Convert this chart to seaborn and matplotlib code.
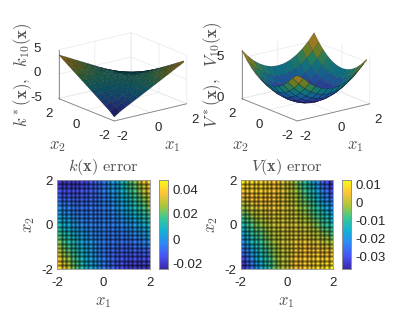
import numpy as np
import matplotlib
matplotlib.use('Agg')
import matplotlib.pyplot as plt
import seaborn as sns
from matplotlib.colors import LinearSegmentedColormap

W, H = 415, 312

# 3D surface samples, rows run from x2=-2 to x2=2
surf_axis = [-2, -1.667, -1.333, -1, -0.667, -0.333, 0, 0.333, 0.667, 1, 1.333, 1.667, 2]
k_surface = [
    [-4.2, -3.33, -2.67, -2, -1.33, -0.67, 0, 0.67, 1.33, 2, 2.67, 3.33, 4],
    [-3.33, -2.78, -2.22, -1.67, -1.11, -0.56, 0, 0.56, 1.11, 1.67, 2.22, 2.78, 3.33],
    [-2.67, -2.22, -1.78, -1.33, -0.89, -0.44, 0, 0.44, 0.89, 1.33, 1.78, 2.22, 2.67],
    [-2, -1.67, -1.33, -1, -0.67, -0.33, 0, 0.33, 0.67, 1, 1.33, 1.67, 2],
    [-1.33, -1.11, -0.89, -0.67, -0.44, -0.22, 0, 0.22, 0.44, 0.67, 0.89, 1.11, 1.33],
    [-0.67, -0.56, -0.44, -0.33, -0.22, -0.11, 0, 0.11, 0.22, 0.33, 0.44, 0.56, 0.67],
    [0, 0, 0, 0, 0, 0, 0, 0, 0, 0, 0, 0, 0],
    [0.67, 0.56, 0.44, 0.33, 0.22, 0.11, 0, -0.11, -0.22, -0.33, -0.44, -0.56, -0.67],
    [1.33, 1.11, 0.89, 0.67, 0.44, 0.22, 0, -0.22, -0.44, -0.67, -0.89, -1.11, -1.33],
    [2, 1.67, 1.33, 1, 0.67, 0.33, 0, -0.33, -0.67, -1, -1.33, -1.67, -2],
    [2.67, 2.22, 1.78, 1.33, 0.89, 0.44, 0, -0.44, -0.89, -1.33, -1.78, -2.22, -2.67],
    [3.33, 2.78, 2.22, 1.67, 1.11, 0.56, 0, -0.56, -1.11, -1.67, -2.22, -2.78, -3.33],
    [4, 3.33, 2.67, 2, 1.33, 0.67, 0, -0.67, -1.33, -2, -2.67, -3.33, -3.6],
]
V_surface = [
    [5.6, 5.08, 4.33, 3.75, 3.33, 3.08, 3.0, 3.08, 3.33, 3.75, 4.33, 5.08, 5.8],
    [5.08, 4.16, 3.41, 2.83, 2.41, 2.16, 2.08, 2.16, 2.41, 2.83, 3.41, 4.16, 5.08],
    [4.33, 3.41, 2.66, 2.08, 1.66, 1.41, 1.33, 1.41, 1.66, 2.08, 2.66, 3.41, 4.33],
    [3.75, 2.83, 2.08, 1.5, 1.08, 0.83, 0.75, 0.83, 1.08, 1.5, 2.08, 2.83, 3.75],
    [3.33, 2.41, 1.66, 1.08, 0.66, 0.41, 0.33, 0.41, 0.66, 1.08, 1.66, 2.41, 3.33],
    [3.08, 2.16, 1.41, 0.83, 0.41, 0.16, 0.08, 0.16, 0.41, 0.83, 1.41, 2.16, 3.08],
    [3.0, 2.08, 1.33, 0.75, 0.33, 0.08, 0, 0.08, 0.33, 0.75, 1.33, 2.08, 3.0],
    [3.08, 2.16, 1.41, 0.83, 0.41, 0.16, 0.08, 0.16, 0.41, 0.83, 1.41, 2.16, 3.08],
    [3.33, 2.41, 1.66, 1.08, 0.66, 0.41, 0.33, 0.41, 0.66, 1.08, 1.66, 2.41, 3.33],
    [3.75, 2.83, 2.08, 1.5, 1.08, 0.83, 0.75, 0.83, 1.08, 1.5, 2.08, 2.83, 3.75],
    [4.33, 3.41, 2.66, 2.08, 1.66, 1.41, 1.33, 1.41, 1.66, 2.08, 2.66, 3.41, 4.33],
    [5.08, 4.16, 3.41, 2.83, 2.41, 2.16, 2.08, 2.16, 2.41, 2.83, 3.41, 4.16, 5.08],
    [6.0, 5.08, 4.33, 3.75, 3.33, 3.08, 3.0, 3.08, 3.33, 3.75, 4.33, 5.08, 6.0],
]

# error maps in thousandths, first row is x2=2, last row is x2=-2
k_error = [
    [-20, -20, -19, -19, -18, -16, -15, -13, -10, -8, -5, -2, 2, 5, 9, 14, 18, 23, 29, 34, 40],
    [-17, -17, -17, -17, -16, -15, -13, -12, -10, -8, -5, -2, 1, 4, 8, 12, 17, 21, 26, 31, 37],
    [-14, -14, -15, -14, -14, -13, -12, -11, -9, -7, -5, -2, 0, 4, 7, 11, 15, 19, 24, 29, 34],
    [-11, -12, -12, -12, -12, -12, -11, -10, -9, -7, -5, -3, 0, 3, 6, 9, 13, 17, 21, 26, 31],
    [-8, -9, -10, -10, -10, -10, -10, -9, -8, -7, -5, -3, -1, 2, 5, 8, 11, 15, 19, 23, 28],
    [-5, -6, -7, -8, -9, -9, -9, -8, -7, -6, -5, -3, -1, 1, 4, 6, 9, 13, 17, 21, 25],
    [-2, -4, -5, -6, -7, -7, -7, -7, -7, -6, -5, -4, -2, 0, 2, 5, 8, 11, 14, 18, 22],
    [1, -1, -3, -4, -5, -6, -6, -6, -6, -6, -5, -4, -3, -1, 1, 3, 6, 9, 12, 15, 19],
    [4, 2, 0, -2, -3, -4, -5, -5, -6, -5, -5, -4, -3, -2, 0, 2, 4, 7, 9, 13, 16],
    [7, 4, 2, 0, -1, -3, -4, -5, -5, -5, -5, -5, -4, -3, -1, 0, 2, 4, 7, 10, 13],
    [10, 7, 5, 2, 0, -1, -3, -4, -4, -5, -5, -5, -4, -4, -3, -1, 0, 2, 5, 7, 10],
    [13, 10, 7, 4, 2, 0, -1, -3, -4, -5, -5, -5, -5, -5, -4, -3, -1, 0, 2, 4, 7],
    [16, 13, 9, 7, 4, 2, 0, -2, -3, -4, -5, -5, -6, -5, -5, -4, -3, -2, 0, 2, 4],
    [19, 15, 12, 9, 6, 3, 1, -1, -3, -4, -5, -6, -6, -6, -6, -6, -5, -4, -3, -1, 1],
    [22, 18, 14, 11, 8, 5, 2, 0, -2, -4, -5, -6, -7, -7, -7, -7, -7, -6, -5, -4, -2],
    [25, 21, 17, 13, 9, 6, 4, 1, -1, -3, -5, -6, -7, -8, -9, -9, -9, -8, -7, -6, -5],
    [28, 23, 19, 15, 11, 8, 5, 2, -1, -3, -5, -7, -8, -9, -10, -10, -10, -10, -10, -9, -8],
    [31, 26, 21, 17, 13, 9, 6, 3, 0, -3, -5, -7, -9, -10, -11, -12, -12, -12, -12, -12, -11],
    [34, 29, 24, 19, 15, 11, 7, 4, 0, -2, -5, -7, -9, -11, -12, -13, -14, -14, -15, -14, -14],
    [37, 31, 26, 21, 17, 12, 8, 4, 1, -2, -5, -8, -10, -12, -13, -15, -16, -17, -17, -17, -17],
    [40, 34, 29, 23, 18, 14, 9, 5, 2, -2, -5, -8, -10, -13, -15, -16, -18, -19, -19, -20, -20],
]
V_error = [
    [12, 10, 9, 9, 8, 8, 7, 6, 5, 3, 1, -1, -3, -6, -10, -13, -17, -21, -26, -30, -35],
    [9, 9, 8, 8, 8, 8, 7, 6, 5, 3, 1, 0, -3, -6, -9, -12, -16, -20, -24, -28, -33],
    [7, 7, 7, 8, 7, 7, 7, 6, 5, 3, 1, 0, -2, -5, -8, -11, -14, -18, -22, -26, -31],
    [5, 6, 6, 7, 7, 6, 6, 5, 4, 3, 1, 0, -2, -4, -7, -10, -13, -16, -20, -24, -28],
    [3, 4, 5, 5, 6, 6, 6, 5, 4, 3, 2, 1, -1, -4, -6, -9, -11, -15, -18, -22, -26],
    [0, 2, 3, 4, 4, 5, 5, 4, 4, 3, 2, 1, -1, -3, -5, -7, -10, -13, -16, -20, -23],
    [-2, -1, 1, 2, 3, 3, 4, 4, 3, 3, 2, 1, 0, -2, -4, -6, -9, -11, -14, -17, -21],
    [-5, -3, -1, 0, 1, 2, 3, 3, 3, 3, 2, 1, 0, -1, -3, -5, -7, -10, -12, -15, -19],
    [-7, -5, -3, -1, 0, 1, 2, 2, 2, 2, 2, 1, 1, -1, -2, -4, -6, -8, -10, -13, -16],
    [-9, -7, -5, -3, -1, 0, 1, 2, 2, 2, 2, 2, 1, 0, -1, -3, -5, -6, -9, -11, -14],
    [-12, -9, -7, -5, -3, -1, 0, 1, 2, 2, 2, 2, 2, 1, 0, -1, -3, -5, -7, -9, -12],
    [-14, -11, -9, -6, -5, -3, -1, 0, 1, 2, 2, 2, 2, 2, 1, 0, -1, -3, -5, -7, -9],
    [-16, -13, -10, -8, -6, -4, -2, -1, 1, 1, 2, 2, 2, 2, 2, 1, 0, -1, -3, -5, -7],
    [-19, -15, -12, -10, -7, -5, -3, -1, 0, 1, 2, 3, 3, 3, 3, 2, 1, 0, -1, -3, -5],
    [-21, -17, -14, -11, -9, -6, -4, -2, 0, 1, 2, 3, 3, 4, 4, 3, 3, 2, 1, -1, -2],
    [-23, -20, -16, -13, -10, -7, -5, -3, -1, 1, 2, 3, 4, 4, 5, 5, 4, 4, 3, 2, 0],
    [-26, -22, -18, -15, -11, -9, -6, -4, -1, 1, 2, 3, 4, 5, 6, 6, 6, 5, 5, 4, 3],
    [-28, -24, -20, -16, -13, -10, -7, -4, -2, 0, 1, 3, 4, 5, 6, 6, 7, 7, 6, 6, 5],
    [-31, -26, -22, -18, -14, -11, -8, -5, -2, 0, 1, 3, 5, 6, 7, 7, 8, 8, 7, 7, 7],
    [-33, -28, -24, -20, -16, -12, -9, -6, -3, 0, 1, 3, 5, 6, 7, 8, 8, 8, 8, 9, 9],
    [-35, -30, -26, -21, -17, -13, -10, -6, -3, -1, 1, 3, 5, 6, 7, 8, 8, 9, 9, 10, 12],
]

k_cbar_ticks = [-0.02, 0, 0.02, 0.04]
V_cbar_ticks = [-0.03, -0.02, -0.01, 0, 0.01]
axis_ticks = [-2, 0, 2]

sns.set_theme(style='white')
plt.rcParams['font.family'] = ['Liberation Sans', 'DejaVu Sans']
plt.rcParams['mathtext.fontset'] = 'cm'
plt.rcParams['text.color'] = '#262626'
plt.rcParams['axes.unicode_minus'] = False

parula_anchors = np.array([
    (0.2422, 0.1504, 0.6603), (0.2810, 0.3228, 0.9579), (0.1786, 0.5289, 0.9682),
    (0.0689, 0.6948, 0.8394), (0.2161, 0.7843, 0.5923), (0.6720, 0.7793, 0.2227),
    (0.9970, 0.7659, 0.2199), (0.9769, 0.9839, 0.0805)])
parula = LinearSegmentedColormap.from_list('parula', parula_anchors)

fig = plt.figure(figsize=(W / 100, H / 100), dpi=100)


def rect(x0, y0, x1, y1):
    return [x0 / W, 1 - y1 / H, (x1 - x0) / W, (y1 - y0) / H]


def label(x, y, s, size=11, rotation=0):
    fig.text(x / W, 1 - y / H, s, fontsize=size, rotation=rotation, ha='center', va='center', color='#505050')


def surface(box, z, zlim, zticks, clim, shade_factor):
    ax = fig.add_axes(rect(*box), projection='3d', proj_type='ortho')
    ax.patch.set_alpha(0)
    X, Y = np.meshgrid(surf_axis, surf_axis)
    # the original mesh is very fine, so its black edges darken the whole surface
    dark = LinearSegmentedColormap.from_list('dark', parula_anchors * shade_factor)
    ax.plot_surface(X, Y, np.array(z), cmap=dark, vmin=clim[0], vmax=clim[1], rstride=1, cstride=1,
                    edgecolor=(0, 0, 0, 0.4), linewidth=0.3, antialiased=True, shade=False)
    ax.set_xlim(-2, 2)
    ax.set_ylim(-2, 2)
    ax.set_zlim(*zlim)
    ax.set_xticks(axis_ticks)
    ax.set_yticks(axis_ticks)
    ax.set_zticks(zticks)
    ax.view_init(elev=18, azim=-127.5)
    ax.set_box_aspect((1, 1, 0.56), zoom=1.08)
    for a in [ax.xaxis, ax.yaxis, ax.zaxis]:
        a.set_pane_color((1, 1, 1, 0))
        a.pane.set_edgecolor('#e4e4e4')
        a.line.set_color('#808080')
        a.line.set_linewidth(0.6)
        a._axinfo['grid']['color'] = '#e8e8e8'
        a._axinfo['grid']['linewidth'] = 0.5
        a._axinfo['tick']['inward_factor'] = 0
        a._axinfo['tick']['outward_factor'] = 0
    ax.tick_params(labelsize=9.5, colors='#262626')
    ax.tick_params(axis='x', pad=-1.5)
    ax.tick_params(axis='y', pad=-1.5)
    ax.tick_params(axis='z', pad=0)
    for t in ax.get_zticklabels():
        t.set_va('center')
    return ax


def error_map(box, cbox, z, clim, cticks):
    ax = fig.add_axes(rect(*box))
    cax = fig.add_axes(rect(*cbox))
    grid = np.array(z) / 1000
    sns.heatmap(grid, ax=ax, cbar_ax=cax, cmap=parula, vmin=clim[0], vmax=clim[1],
                linewidths=0, xticklabels=False, yticklabels=False, cbar_kws={'ticks': cticks})
    # soft dark mesh lines over the cells, wide faint stroke plus a thin core
    rows, cols = grid.shape
    for lw, alpha in [(2.0, 0.25), (0.9, 0.3)]:
        ax.vlines(np.arange(1, cols), 0, rows, color='black', linewidth=lw, alpha=alpha)
        ax.hlines(np.arange(1, rows), 0, cols, color='black', linewidth=lw, alpha=alpha)
    ax.set_xticks([0, 10.5, 21])
    ax.set_xticklabels(axis_ticks)
    ax.set_yticks([21, 10.5, 0])
    ax.set_yticklabels(axis_ticks, rotation=0)
    ax.tick_params(labelsize=9.5, length=0, colors='#262626')
    ax.tick_params(axis='x', pad=6)
    ax.tick_params(axis='y', pad=3)
    for s in ax.spines.values():
        s.set_visible(True)
        s.set_color('#909090')
        s.set_linewidth(0.6)
    cax.set_yticklabels([f'{t:g}' for t in cticks])
    cax.tick_params(labelsize=9.5, length=0, pad=3, colors='#262626')
    for s in cax.spines.values():
        s.set_visible(True)
        s.set_color('#909090')
        s.set_linewidth(0.6)
    return ax


# top row surfaces
surface((31, 16, 211, 141), k_surface, (-5, 5), [-5, 0, 5], (-4.2, 4.2), 0.45)
surface((214, 16, 394, 141), V_surface, (0, 6), [0, 5], (0, 6), 0.62)
label(23, 75, r'$k^*(\mathbf{x}),\ \ k_{10}(\mathbf{x})$', size=12, rotation=90)
label(213, 75, r'$V^*(\mathbf{x}),\ \ V_{10}(\mathbf{x})$', size=12, rotation=90)
label(172, 147, r'$x_1$', size=12)
label(57, 146, r'$x_2$', size=12)
label(355, 147, r'$x_1$', size=12)
label(240, 146, r'$x_2$', size=12)

# bottom row error maps
error_map((57.3, 180, 150, 269), (159, 180, 168, 269), k_error, (-0.024, 0.0472), k_cbar_ticks)
error_map((240.7, 180, 333, 269), (341.7, 180, 351, 269), V_error, (-0.0373, 0.0128), V_cbar_ticks)
label(103, 167, r'$k(\mathbf{x})\ \mathrm{error}$', size=11.8)
label(287, 167, r'$V(\mathbf{x})\ \mathrm{error}$', size=11.8)
label(103, 302, r'$x_1$', size=12)
label(29, 225, r'$x_2$', size=12, rotation=90)
label(286, 302, r'$x_1$', size=12)
label(212, 225, r'$x_2$', size=12, rotation=90)

fig.savefig('out.png', dpi=100)
